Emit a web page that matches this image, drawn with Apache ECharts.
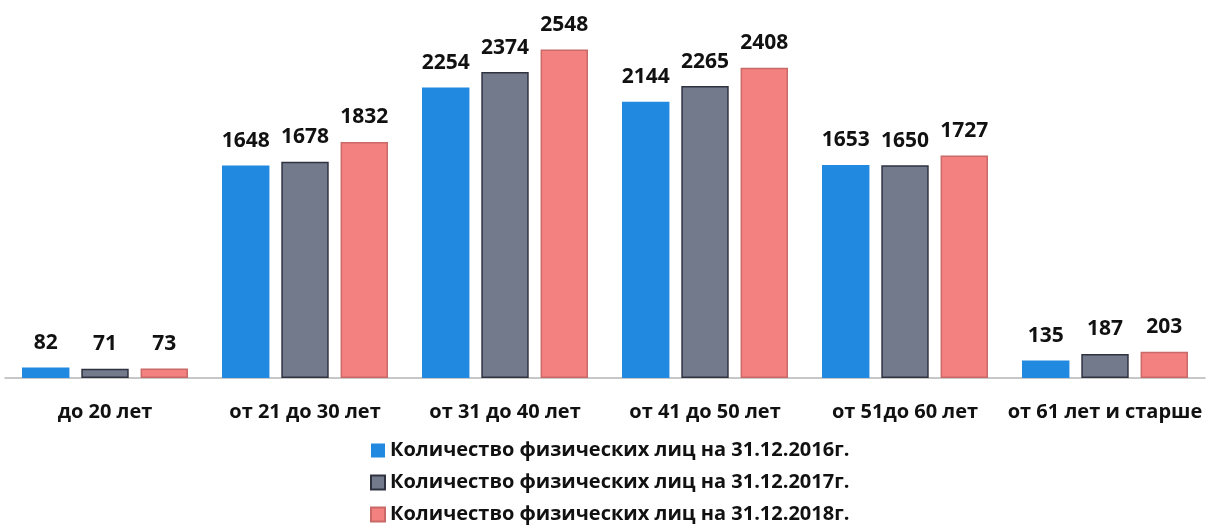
<!DOCTYPE html>
<html>
<head>
<meta charset="utf-8">
<script src="https://cdn.jsdelivr.net/npm/echarts@6/dist/echarts.min.js"></script>
<style>
  html, body { margin: 0; padding: 0; background: #fff; }
  #chart { width: 1207px; height: 528px; }
</style>
</head>
<body>
<div id="chart"></div>
<script>
// возрастные группы
var categories = ['до 20 лет', 'от 21 до 30 лет', 'от 31 до 40 лет', 'от 41 до 50 лет', 'от 51до 60 лет', 'от 61 лет и старше'];
var seriesNames = [
  'Количество физических лиц на 31.12.2016г.',
  'Количество физических лиц на 31.12.2017г.',
  'Количество физических лиц на 31.12.2018г.'
];
var values2016 = [82, 1648, 2254, 2144, 1653, 135];
var values2017 = [71, 1678, 2374, 2265, 1650, 187];
var values2018 = [73, 1832, 2548, 2408, 1727, 203];

var colors = ['#2189e0', '#737a8c', '#f3817f'];
var borders = ['#1f7fd0', '#2f3340', '#c96a68'];

var chart = echarts.init(document.getElementById('chart'));

var labelStyle = {
  show: true,
  position: 'top',
  distance: 14,
  color: '#111',
  fontFamily: 'Open Sans',
  fontWeight: 'bold',
  fontSize: 21
};

function makeSeries(i, data) {
  return {
    name: seriesNames[i],
    type: 'bar',
    data: data,
    barGap: '25%',
    barCategoryGap: '17%',
    itemStyle: { color: colors[i], borderColor: borders[i], borderWidth: i === 0 ? 0 : 1.5 },
    label: labelStyle
  };
}

var option = {
  animation: false,
  grid: { left: 5, right: 2, top: 30, bottom: 150 },
  legend: {
    orient: 'vertical',
    left: 370,
    top: 438,
    padding: 0,
    itemWidth: 14,
    itemHeight: 14,
    itemGap: 7,
    icon: 'rect',
    textStyle: { color: '#111', fontFamily: 'Open Sans', fontWeight: 'bold', fontSize: 20, lineHeight: 25 },
    data: seriesNames
  },
  xAxis: {
    type: 'category',
    data: categories,
    axisLine: { lineStyle: { color: '#b5b5b5', width: 1.5 } },
    axisTick: { show: false },
    axisLabel: { interval: 0, color: '#111', fontFamily: 'Open Sans', fontWeight: 'bold', fontSize: 20, margin: 24 }
  },
  yAxis: {
    type: 'value',
    min: 0,
    max: 2700,
    show: false,
    splitLine: { show: false }
  },
  series: [
    makeSeries(0, values2016),
    makeSeries(1, values2017),
    makeSeries(2, values2018)
  ]
};

chart.setOption(option);
</script>
</body>
</html>
